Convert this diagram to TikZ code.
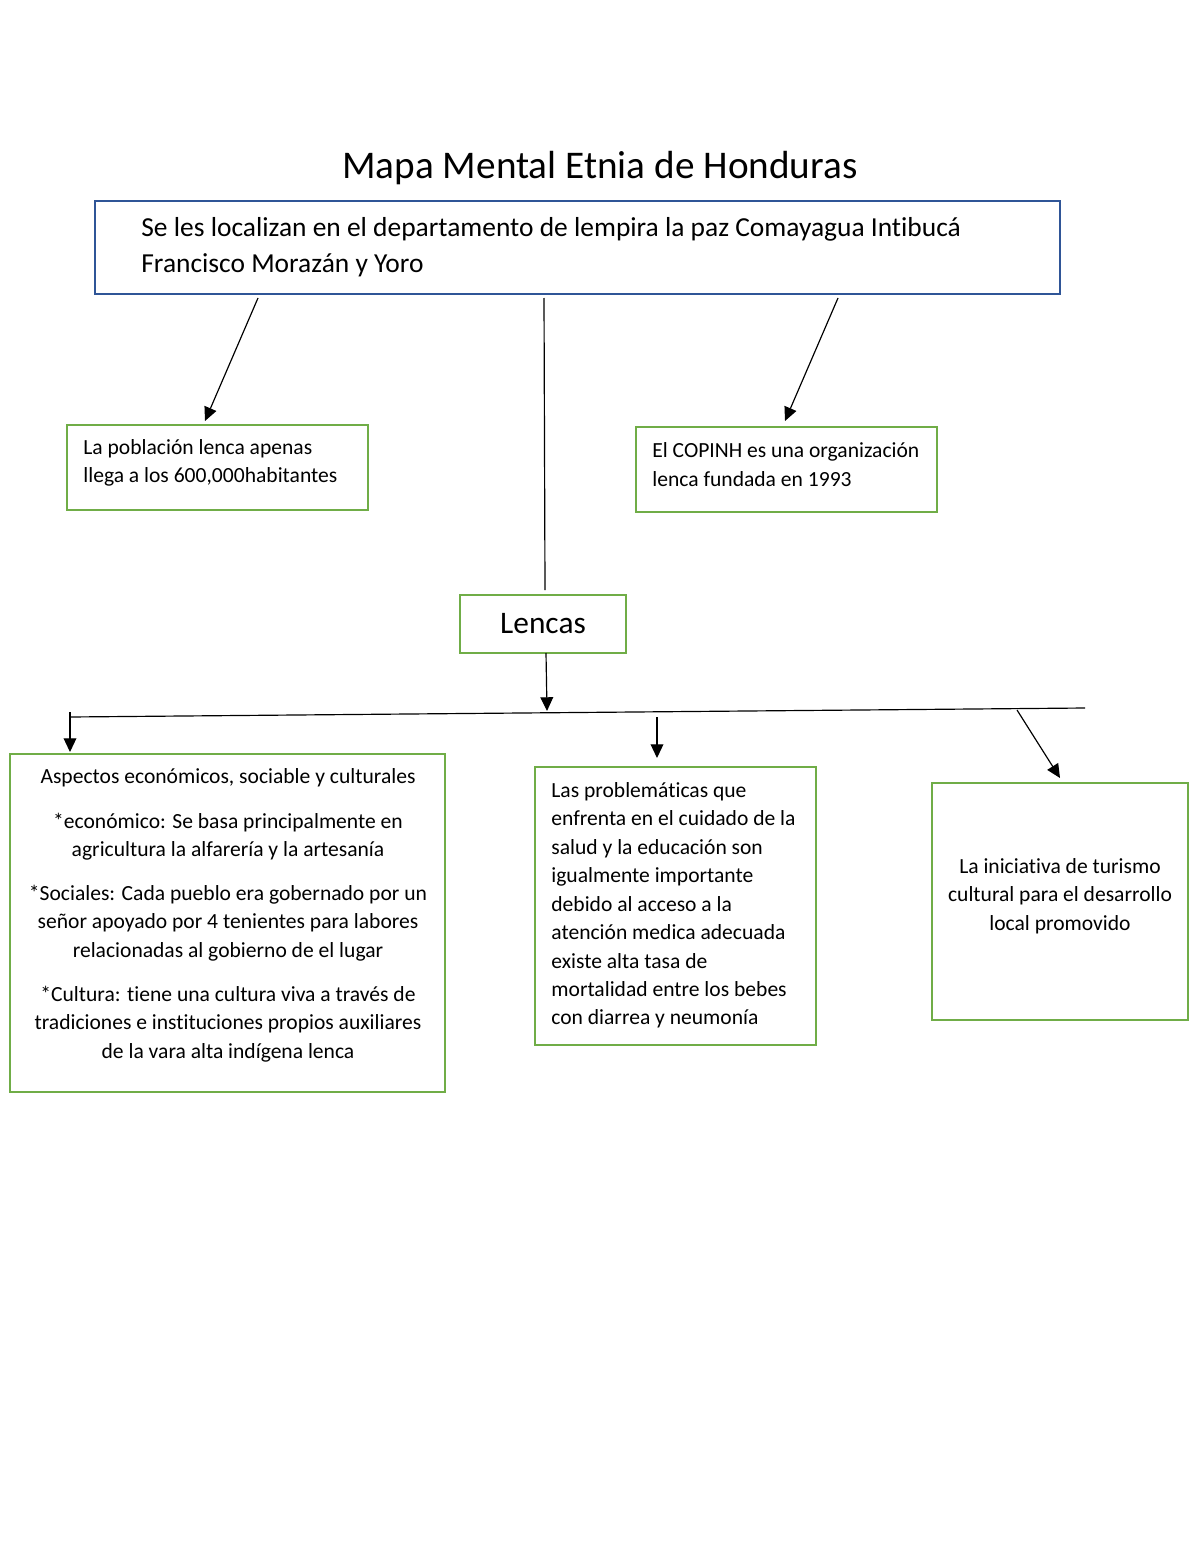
\documentclass[tikz,border=0pt]{standalone}
\usepackage{fontspec}
\setmainfont{Carlito}[Ligatures=NoCommon]
\usetikzlibrary{arrows.meta}
\definecolor{gboxc}{HTML}{70AD47}
\definecolor{bboxc}{HTML}{2F5597}
\tikzset{
  x=0.51pt, y=-0.51pt,
  gbox/.style={draw=gboxc, line width=1.1pt, rectangle, inner sep=0pt},
  bbox/.style={draw=bboxc, line width=1.1pt, rectangle, inner sep=0pt},
  txt/.style={inner sep=0pt, font=\fontsize{11}{14.5}\selectfont},
  conn/.style={line width=0.6pt, -{Triangle[length=7pt,width=6.5pt]}},
  plain/.style={line width=0.6pt},
}
\begin{document}
\begin{tikzpicture}
\useasboundingbox (0,0) rectangle (1200,1553);
% title
\node[inner sep=0pt, font=\fontsize{20}{24}\selectfont] (title) at (600,168) {Mapa Mental Etnia de Honduras};
% top box
\node[bbox, minimum width=965*0.51pt, minimum height=93*0.51pt] (top) at (577.5,247.5) {};
\node[txt, anchor=west, align=left, font=\fontsize{14}{18.4}\selectfont] (toptxt) at (141,247)
  {Se les localizan en el departamento de lempira la paz Comayagua Intibucá\\Francisco Morazán y Yoro};
% box A
\node[gbox, minimum width=301*0.51pt, minimum height=85*0.51pt] (boxA) at (217.5,467.5) {};
\node[txt, anchor=west, align=left] (txtA) at (83,463)
  {La población lenca apenas\\llega a los 600,000habitantes};
% box B
\node[gbox, minimum width=301*0.51pt, minimum height=85*0.51pt] (boxB) at (786.5,469.5) {};
\node[txt, anchor=west, align=left] (txtB) at (652,464.5)
  {El COPINH es una organización\\lenca fundada en 1993};
% Lencas
\node[gbox, minimum width=166*0.51pt, minimum height=58*0.51pt, font=\fontsize{16}{19}\selectfont] (lencas) at (543,624) {\raisebox{-0.6pt}{Lencas}};
% box C
\node[gbox, minimum width=435*0.51pt, minimum height=338*0.51pt] (boxC) at (227.5,923) {};
\node[txt, align=center] (txtC) at (228,915.5)
  {Aspectos económicos, sociable y culturales\\[8pt]
   *económico: Se basa principalmente en\\agricultura la alfarería y la artesanía\\[8pt]
   *Sociales: Cada pueblo era gobernado por un\\señor apoyado por 4 tenientes para labores\\relacionadas al gobierno de el lugar\\[8pt]
   *Cultura: tiene una cultura viva a través de\\tradiciones e instituciones propios auxiliares\\de la vara alta indígena lenca};
% box D
\node[gbox, minimum width=281*0.51pt, minimum height=278*0.51pt] (boxD) at (675.5,906) {};
\node[txt, anchor=west, align=left] (txtD) at (551,905.5)
  {Las problemáticas que\\enfrenta en el cuidado de la\\salud y la educación son\\igualmente importante\\debido al acceso a la\\atención medica adecuada\\existe alta tasa de\\mortalidad entre los bebes\\con diarrea y neumonía};
% box E
\node[gbox, minimum width=256*0.51pt, minimum height=237*0.51pt] (boxE) at (1060,901.5) {};
\node[txt, align=center] (txtE) at (1060,896)
  {La iniciativa de turismo\\cultural para el desarrollo\\local promovido};
% connectors
\coordinate (t1) at (258,298);
\coordinate (t2) at (544,298);
\coordinate (t3) at (838,298);
\coordinate (hL) at (70,717);
\coordinate (hR) at (1085,708);
\coordinate (a1) at (205,421);
\coordinate (a3) at (785,421);
\coordinate (lb) at (545,590);
\coordinate (ls) at (546,653);
\coordinate (lm) at (547,711);
\coordinate (c0) at (70,712);
\coordinate (c1) at (70,752);
\coordinate (d0) at (657,717);
\coordinate (d1) at (657,758);
\coordinate (e0) at (1017,710);
\coordinate (e1) at (1060,778);
\draw[conn] (t1) -- (a1);
\draw[plain] (t2) -- (lb);
\draw[conn] (t3) -- (a3);
\draw[conn] (ls) -- (lm);
\draw[plain] (hL) -- (hR);
\draw[conn] (c0) -- (c1);
\draw[conn] (d0) -- (d1);
\draw[conn] (e0) -- (e1);
\end{tikzpicture}
\end{document}
